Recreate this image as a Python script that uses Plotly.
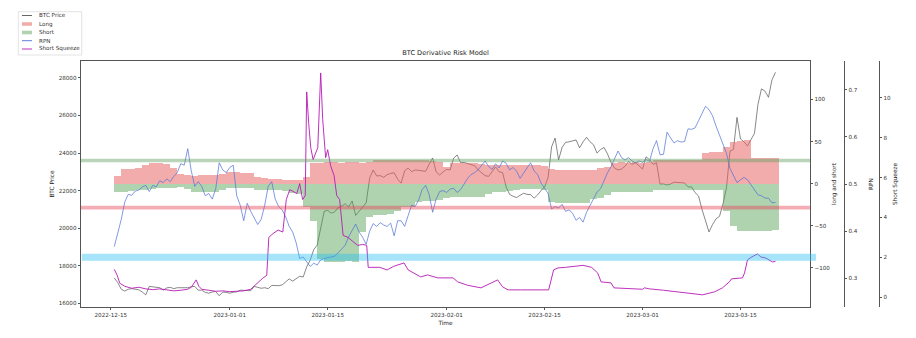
import pandas as pd
import plotly.graph_objects as go

# ---- BTC price, 12-hourly from 2022-12-15 12:00 ----
btc_price = [
    17350, 17100, 16750, 16650, 16750, 16780, 16750, 16720, 16600, 16450,
    16900, 16880, 16820, 16830, 16700, 16820, 16850, 16780, 16830, 16830,
    16800, 16830, 16880, 16900, 16700, 16700, 16580, 16540, 16600, 16630,
    16400, 16600, 16580, 16540, 16590, 16610, 16700, 16670, 16680, 16670,
    16900, 16850, 16800, 16830, 16780, 16950, 16930, 16940, 16980, 17120,
    17300, 17180, 17300, 17440, 17400, 17940, 18300, 18850, 19100, 19930,
    20900, 20950, 20800, 20870, 21100, 21170, 21300, 21130, 21450, 20680,
    20900, 21070, 21350, 22670, 23100, 22780, 22800, 22710, 22850, 22920,
    22950, 22610, 22400, 23060, 23200, 23010, 23100, 23080, 23050, 23030,
    23400, 23740, 23000, 22830, 23000, 23130, 23100, 23730, 23900, 23490,
    23500, 23430, 23400, 23330, 23100, 22930, 22800, 22760, 23000, 23260,
    23000, 22960, 22200, 21800, 21700, 21630, 21750, 21860, 21800, 21790,
    21600, 21770, 22000, 22200, 22700, 24330, 24800, 23640, 24300, 24570,
    24600, 24630, 24700, 24280, 24600, 24840, 24600, 24440, 24000, 24190,
    24300, 23950, 23500, 23200, 23100, 23150, 23300, 23550, 23400, 23490,
    23300, 23150, 23800, 23650, 23400, 23480, 22350, 22360, 22300, 22350,
    22450, 22430, 22450, 22410, 22200, 22200, 21900, 21720, 21000, 20360,
    19800, 20190, 20500, 20630, 21300, 22160, 24100, 24200, 25900, 24750,
    24600, 24380, 24700, 25050, 26600, 27420, 27300, 26970, 27900, 28300,
]

# ---- RPN, same 12-hourly timestamps ----
rpn = [
    0.367, 0.395, 0.425, 0.462, 0.478, 0.476, 0.485, 0.487, 0.494, 0.497,
    0.484, 0.497, 0.494, 0.507, 0.503, 0.511, 0.505, 0.516, 0.524, 0.543,
    0.540, 0.575, 0.528, 0.495, 0.505, 0.495, 0.475, 0.480, 0.468, 0.490,
    0.545, 0.530, 0.524, 0.535, 0.540, 0.475, 0.455, 0.422, 0.459, 0.442,
    0.428, 0.414, 0.425, 0.455, 0.495, 0.505, 0.468, 0.452, 0.445, 0.430,
    0.410, 0.398, 0.375, 0.342, 0.345, 0.336, 0.325, 0.332, 0.328, 0.339,
    0.342, 0.344, 0.345, 0.347, 0.354, 0.362, 0.370, 0.388, 0.402, 0.415,
    0.398, 0.387, 0.372, 0.400, 0.416, 0.410, 0.418, 0.413, 0.410, 0.417,
    0.390, 0.422, 0.422, 0.410, 0.433, 0.455, 0.452, 0.466, 0.488, 0.497,
    0.478, 0.440, 0.468, 0.484, 0.486, 0.482, 0.489, 0.491, 0.482, 0.488,
    0.500, 0.512, 0.520, 0.524, 0.530, 0.540, 0.549, 0.537, 0.531, 0.543,
    0.534, 0.549, 0.544, 0.530, 0.535, 0.527, 0.512, 0.523, 0.534, 0.545,
    0.528, 0.520, 0.502, 0.492, 0.480, 0.447, 0.452, 0.449, 0.457, 0.442,
    0.445, 0.438, 0.423, 0.429, 0.419, 0.440, 0.455, 0.468, 0.483, 0.490,
    0.507, 0.524, 0.537, 0.552, 0.570, 0.556, 0.551, 0.556, 0.549, 0.545,
    0.549, 0.546, 0.552, 0.548, 0.575, 0.592, 0.562, 0.563, 0.610, 0.598,
    0.587, 0.592, 0.589, 0.590, 0.617, 0.616, 0.619, 0.634, 0.650, 0.665,
    0.658, 0.645, 0.623, 0.603, 0.584, 0.565, 0.533, 0.519, 0.503, 0.509,
    0.514, 0.509, 0.498, 0.488, 0.477, 0.475, 0.470, 0.470, 0.460, 0.461,
]

# ---- daily long / short positioning, from 2022-12-16 ----
long_pos = [
    9, 17, 17, 18, 22,   24, 24, 23, 18, 12,   10, 9, 10, 10, 10,
    12, 14, 14, 13, 13,  8, 7, 6, 5, 4,        4, 4, 8, 24, 25,
    26, 26, 25, 26, 26,  25, 26, 28, 28, 28,   28, 28, 28, 28, 28,
    27, 26, 20, 24, 24,  24, 24, 23, 22, 22,   22, 22, 22, 22, 22,
    22, 21, 17, 16, 16,  16, 16, 16, 16, 18,   20, 25, 26, 25, 26,
    25, 26, 28, 28, 28,  28, 28, 28, 28, 37,   38, 38, 43, 50, 51,
    52, 30, 30, 30, 31,
]
short_pos = [
    -10, -10, -9, -8, -8,    -6, -5, -5, -5, -4,      -6, -10, -10, -10, -10,
    -8, -5, -5, -5, -5,      -7, -8, -8, -8, -9,      -11, -12, -28, -44, -90,
    -93, -93, -93, -92, -93, -58, -40, -37, -37, -36, -33, -28, -28, -22, -21,
    -21, -20, -17, -16, -16, -16, -16, -16, -12, -10, -10, -9, -7, -6, -6,
    -6, -8, -22, -23, -23,   -23, -23, -23, -18, -17,  -14, -10, -10, -10, -10,
    -10, -10, -8, -7, -7,    -7, -7, -7, -7, -7,      -7, -7, -32, -50, -56,
    -56, -56, -56, -56, -55,
]

# ---- short squeeze indicator (irregular timestamps) ----
sq_time = [
    "2022-12-15 12:00", "2022-12-15 22:00", "2022-12-16 07:00", "2022-12-17 00:00",
    "2022-12-18 00:00", "2022-12-19 00:00", "2022-12-20 00:00", "2022-12-21 00:00",
    "2022-12-22 00:00", "2022-12-23 00:00", "2022-12-24 00:00", "2022-12-25 00:00",
    "2022-12-26 00:00", "2022-12-26 12:00", "2022-12-27 05:00", "2022-12-27 14:00",
    "2022-12-28 00:00", "2022-12-29 00:00", "2022-12-30 00:00", "2022-12-31 00:00",
    "2023-01-01 00:00", "2023-01-02 00:00", "2023-01-03 00:00", "2023-01-04 00:00",
    "2023-01-05 00:00", "2023-01-05 17:00", "2023-01-06 07:00", "2023-01-06 14:00",
    "2023-01-07 05:00", "2023-01-07 22:00", "2023-01-08 14:00", "2023-01-09 02:00",
    "2023-01-09 14:00", "2023-01-10 02:00", "2023-01-10 14:00", "2023-01-11 00:00",
    "2023-01-11 10:00", "2023-01-11 19:00", "2023-01-12 00:00", "2023-01-12 07:00",
    "2023-01-12 14:00", "2023-01-12 22:00", "2023-01-13 07:00", "2023-01-13 14:00",
    "2023-01-14 00:00", "2023-01-14 07:00", "2023-01-14 17:00", "2023-01-15 00:00",
    "2023-01-15 10:00", "2023-01-15 22:00", "2023-01-16 07:00", "2023-01-16 17:00",
    "2023-01-17 05:00", "2023-01-17 22:00", "2023-01-18 14:00", "2023-01-19 07:00",
    "2023-01-20 00:00", "2023-01-20 14:00", "2023-01-20 19:00", "2023-01-21 12:00",
    "2023-01-22 10:00", "2023-01-23 12:00", "2023-01-24 10:00", "2023-01-25 22:00",
    "2023-01-26 12:00", "2023-01-28 07:00", "2023-01-29 07:00", "2023-01-30 17:00",
    "2023-02-01 22:00", "2023-02-02 14:00", "2023-02-04 00:00", "2023-02-05 22:00",
    "2023-02-08 07:00", "2023-02-09 00:00", "2023-02-09 19:00", "2023-02-11 14:00",
    "2023-02-13 00:00", "2023-02-15 14:00", "2023-02-16 07:00", "2023-02-16 22:00",
    "2023-02-18 00:00", "2023-02-20 12:00", "2023-02-21 17:00", "2023-02-22 14:00",
    "2023-02-23 02:00", "2023-02-24 12:00", "2023-02-24 22:00", "2023-02-27 00:00",
    "2023-03-01 00:00", "2023-03-01 07:00", "2023-03-02 00:00", "2023-03-04 00:00",
    "2023-03-06 00:00", "2023-03-08 00:00", "2023-03-09 14:00", "2023-03-11 07:00",
    "2023-03-12 10:00", "2023-03-13 10:00", "2023-03-13 17:00", "2023-03-15 07:00",
    "2023-03-15 14:00", "2023-03-16 00:00", "2023-03-16 12:00", "2023-03-17 10:00",
    "2023-03-17 22:00", "2023-03-18 14:00", "2023-03-19 02:00", "2023-03-19 14:00",
    "2023-03-20 00:00",
]
sq_value = [
    1.40, 1.10, 0.70, 0.55,
    0.45, 0.50, 0.42, 0.38,
    0.42, 0.36, 0.32, 0.35,
    0.40, 0.50, 0.87, 0.55,
    0.40, 0.35, 0.30, 0.32,
    0.28, 0.30, 0.32, 0.40,
    0.75, 0.95, 1.10, 3.00,
    3.20, 3.37, 3.27, 4.90,
    5.40, 5.30, 5.20, 5.70,
    4.90, 5.10, 10.30, 8.70,
    7.50, 6.90, 7.30, 7.50,
    11.25, 8.90, 7.00, 7.40,
    6.60, 6.10, 5.10, 4.90,
    3.10, 3.00, 2.80, 2.60,
    2.65, 2.60, 1.50, 1.50,
    1.50, 1.37, 1.55, 1.72,
    1.37, 1.02, 1.12, 0.97,
    0.97, 0.77, 0.60, 0.47,
    0.87, 0.52, 0.37, 0.37,
    0.38, 0.37, 1.37, 1.47,
    1.50, 1.60, 1.50, 1.22,
    0.77, 0.72, 0.47, 0.45,
    0.40, 0.47, 0.42, 0.35,
    0.28, 0.20, 0.12, 0.27,
    0.47, 0.77, 0.92, 0.97,
    1.22, 1.87, 2.00, 2.17,
    2.02, 1.97, 1.85, 1.77,
    1.80,
]

x_ticks = ["2022-12-15", "2023-01-01", "2023-01-15", "2023-02-01",
           "2023-02-15", "2023-03-01", "2023-03-15"]
btc_ticks = [16000, 18000, 20000, 22000, 24000, 26000, 28000]
ls_ticks = [-100, -50, 0, 50, 100]
ls_ticktext = ["\u2212100", "\u221250", "0", "50", "100"]
rpn_ticks = [0.3, 0.4, 0.5, 0.6, 0.7]
sq_ticks = [0, 2, 4, 6, 8, 10]

t_half_day = pd.date_range("2022-12-15 12:00", periods=len(btc_price), freq="12h")
t_rpn = pd.date_range("2022-12-15 12:00", periods=len(rpn), freq="12h")
t_day = pd.date_range("2022-12-16", periods=len(long_pos), freq="D")

C_BTC = "#555555"
C_RPN = "#4c6fd6"
C_SQ = "#b51ab5"
C_LONG = "rgba(232,95,95,0.52)"
C_SHORT = "rgba(80,160,80,0.46)"

FONT = "DejaVu Sans"
TXT = "#333333"
AX = "#555555"

fig = go.Figure()

fig.add_trace(go.Scatter(x=t_half_day, y=btc_price, mode="lines", name="BTC Price",
                         line=dict(color=C_BTC, width=0.7), yaxis="y", showlegend=False))
fig.add_trace(go.Bar(x=t_day, y=long_pos, name="Long", marker=dict(color=C_LONG, line=dict(width=0)),
                     width=0.96 * 86400000, yaxis="y2", showlegend=False))
fig.add_trace(go.Bar(x=t_day, y=short_pos, name="Short", marker=dict(color=C_SHORT, line=dict(width=0)),
                     width=0.96 * 86400000, yaxis="y2", showlegend=False))
fig.add_trace(go.Scatter(x=t_rpn, y=rpn, mode="lines", name="RPN",
                         line=dict(color=C_RPN, width=0.7), yaxis="y3", showlegend=False))
fig.add_trace(go.Scatter(x=sq_time, y=sq_value, mode="lines", name="Short Squeeze",
                         line=dict(color=C_SQ, width=0.9), yaxis="y4", showlegend=False))

tick_font = dict(family=FONT, size=5.6, color=TXT)
title_font = dict(family=FONT, size=5.8, color="#222222")
common = dict(showgrid=False, zeroline=False, showline=True, linecolor=AX, linewidth=0.8,
              ticks="outside", ticklen=2.5, tickwidth=0.7, tickcolor=AX,
              tickfont=tick_font, automargin=False)

fig.update_layout(
    width=916, height=338,
    margin=dict(l=81, r=37, t=61, b=31),
    paper_bgcolor="white", plot_bgcolor="white",
    font=dict(family=FONT, color=TXT),
    barmode="overlay", bargap=0,
    title=dict(text="BTC Derivative Risk Model", x=0.4568, xref="paper", xanchor="center",
               y=1 - 53 / 338, yref="container", yanchor="middle",
               font=dict(family=FONT, size=6.6, color="#222222")),
    xaxis=dict(domain=[0, 0.9135], type="date",
               range=["2022-12-10 17:50", "2023-03-24 22:20"],
               tickvals=x_ticks, tickformat="%Y-%m-%d", mirror=True,
               title=dict(text="Time", font=title_font, standoff=3), **common),
    yaxis=dict(range=[15803, 28904], tickvals=btc_ticks, tickformat="d", mirror=True,
               title=dict(text="BTC Price", font=title_font, standoff=3), **common),
    yaxis2=dict(overlaying="y", side="right", anchor="x", range=[-146.7, 145.8],
                tickvals=ls_ticks, ticktext=ls_ticktext,
                title=dict(text="long and short", font=title_font, standoff=2), **common),
    yaxis3=dict(overlaying="y", side="right", anchor="free", position=0.9561,
                range=[0.239, 0.761], tickvals=rpn_ticks, tickformat=".1f",
                title=dict(text="RPN", font=title_font, standoff=12), **common),
    yaxis4=dict(overlaying="y", side="right", anchor="free", position=1.0,
                range=[-0.49, 11.85], tickvals=sq_ticks, tickformat="d",
                title=dict(text="Short Squeeze", font=title_font, standoff=2), **common),
)

# threshold bands
fig.add_shape(type="line", xref="x domain", x0=0, x1=1, yref="y3", y0=0.55, y1=0.55,
              line=dict(color="rgba(100,160,100,0.45)", width=3.5), layer="above")
fig.add_shape(type="line", xref="x domain", x0=0, x1=1, yref="y3", y0=0.45, y1=0.45,
              line=dict(color="rgba(230,70,90,0.45)", width=3.8), layer="above")
fig.add_shape(type="line", xref="paper", x0=0.001, x1=0.921, yref="y4", y0=2, y1=2,
              line=dict(color="rgba(40,190,240,0.42)", width=7), layer="above")

# legend (top-left, outside the axes)
def px_x(v):
    return (v - 81) / 798


def px_y(v):
    return (307 - v) / 246


fig.add_shape(type="rect", xref="paper", yref="paper",
              x0=px_x(18.3), x1=px_x(81.7), y0=px_y(55), y1=px_y(11.7),
              line=dict(color="#d0d0d0", width=0.6), fillcolor="white")
legend_rows = [
    ("BTC Price", "line", C_BTC, 15.5),
    ("Long", "patch", C_LONG, 24.0),
    ("Short", "patch", C_SHORT, 32.5),
    ("RPN", "line", C_RPN, 40.7),
    ("Short Squeeze", "line", C_SQ, 49.0),
]
for label, kind, color, ypx in legend_rows:
    if kind == "line":
        fig.add_shape(type="line", xref="paper", yref="paper",
                      x0=px_x(22), x1=px_x(32), y0=px_y(ypx), y1=px_y(ypx),
                      line=dict(color=color, width=0.9))
    else:
        fig.add_shape(type="rect", xref="paper", yref="paper",
                      x0=px_x(22), x1=px_x(32), y0=px_y(ypx + 1.8), y1=px_y(ypx - 1.8),
                      line=dict(width=0), fillcolor=color)
    fig.add_annotation(text=label, xref="paper", yref="paper", x=px_x(36.5), y=px_y(ypx),
                       xanchor="left", yanchor="middle", showarrow=False,
                       font=dict(family=FONT, size=5.6, color=TXT))

fig.write_html("out.html")
